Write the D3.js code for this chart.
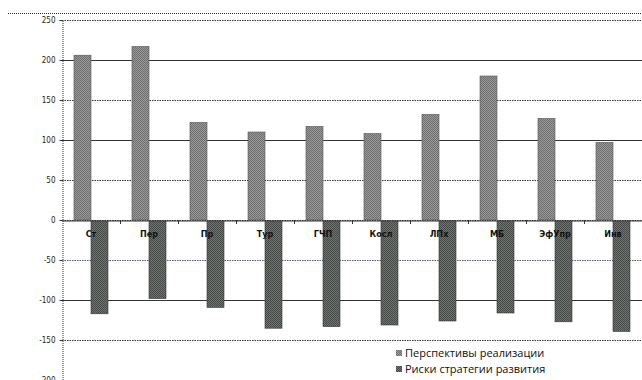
<!DOCTYPE html>
<html><head><meta charset="utf-8">
<script src="https://cdn.jsdelivr.net/npm/d3@7/dist/d3.min.js"></script>
<style>body{margin:0;background:#fff}svg{display:block}</style>
</head><body><div id="chart"></div>
<script>
const categories = ["Ст","Пер","Пр","Тур","ГЧП","Косл","ЛПх","МБ","ЭфУпр","Инв"];
const prospects = [206,217,122,110,117,108,132,180,127,97];
const risks = [-116,-97,-108,-134,-132,-130,-125,-115,-126,-138];
const yTicks = [-200,-150,-100,-50,0,50,100,150,200,250];
const seriesNames = ["Перспективы реализации","Риски стратегии развития"];

const W=642,H=380;
const svg=d3.select("#chart").append("svg").attr("width",W).attr("height",H);
const defs=svg.append("defs");
function pat(id,c1,c2){
  const p=defs.append("pattern").attr("id",id).attr("width",2).attr("height",2).attr("patternUnits","userSpaceOnUse");
  p.append("rect").attr("width",2).attr("height",2).attr("fill",c1);
  p.append("rect").attr("width",1).attr("height",1).attr("fill",c2);
  p.append("rect").attr("x",1).attr("y",1).attr("width",1).attr("height",1).attr("fill",c2);
}
pat("p1","#9a9a9a","#6e6e6e");
pat("p2","#707470","#474b47");

const x=d3.scaleBand().domain(categories).range([62,642]).padding(0);
const y=d3.scaleLinear().domain([-200,250]).range([380,20]);
const bw=17;

svg.append("line").attr("x1",8).attr("x2",W).attr("y1",13.5).attr("y2",13.5)
  .attr("stroke","#333").attr("stroke-width",1).attr("stroke-dasharray","1,1");

svg.append("g").selectAll("line").data(yTicks).join("line")
  .attr("x1",62).attr("x2",W).attr("y1",d=>y(d)+0.5).attr("y2",d=>y(d)+0.5)
  .attr("stroke",d=>d===-50?"#555577":"#333").attr("stroke-width",1)
  .attr("stroke-dasharray",d=>(d===100||d===200||d===-100)?null:"1.5,1");

const yAxis=d3.axisLeft(y).tickValues(yTicks).tickSize(3).tickPadding(4)
  .tickFormat(d=>String(d));
const ga=svg.append("g").attr("transform","translate(62.5,0)").call(yAxis);
ga.select(".domain").attr("stroke","#333").attr("stroke-dasharray","1,1");
ga.selectAll(".tick line").attr("stroke","#333");
ga.selectAll("text").attr("font-family","DejaVu Sans Condensed, DejaVu Sans, sans-serif").attr("font-size",8).attr("fill","#222");

const xAxis=d3.axisBottom(x).tickSize(0).tickFormat("");
const gx=svg.append("g").attr("transform",`translate(0,${y(0)+0.5})`).call(xAxis);
gx.select(".domain").attr("stroke","#333");
svg.append("g").selectAll("line").data(categories.slice(1)).join("line")
  .attr("x1",d=>x(d)+0.5).attr("x2",d=>x(d)+0.5).attr("y1",y(0)).attr("y2",y(0)+4)
  .attr("stroke","#333");

const c=d=>x(d)+x.bandwidth()/2;
svg.append("g").selectAll("rect").data(categories).join("rect")
  .attr("x",(d,i)=>c(d)-bw).attr("width",bw)
  .attr("y",(d,i)=>y(prospects[i])).attr("height",(d,i)=>y(0)-y(prospects[i]))
  .attr("fill","url(#p1)").attr("stroke","#555").attr("stroke-width",0.6);
svg.append("g").selectAll("rect").data(categories).join("rect")
  .attr("x",(d,i)=>c(d)).attr("width",bw)
  .attr("y",y(0)+1).attr("height",(d,i)=>y(risks[i])-y(0))
  .attr("fill","url(#p2)").attr("stroke","#333").attr("stroke-width",0.6);

// category labels over the bars
svg.append("g").selectAll("text").data(categories).join("text")
  .attr("x",d=>c(d)).attr("y",y(0)+17)
  .attr("text-anchor","middle").attr("font-family","DejaVu Sans Condensed, DejaVu Sans, sans-serif")
  .attr("font-size",9).attr("font-weight","bold").attr("fill","#111").text(d=>d);

const lg=svg.append("g").attr("transform","translate(396,348)");
lg.append("rect").attr("x",-8).attr("y",-5).attr("width",200).attr("height",40).attr("fill","#fff");
seriesNames.forEach((n,i)=>{
  lg.append("rect").attr("x",0).attr("y",2+i*16).attr("width",6).attr("height",6)
    .attr("fill",i===0?"url(#p1)":"url(#p2)");
  lg.append("text").attr("x",9).attr("y",9+i*16).attr("font-family","Open Sans, sans-serif")
    .attr("font-size",11).attr("fill","#111").text(n);
});
</script></body></html>
